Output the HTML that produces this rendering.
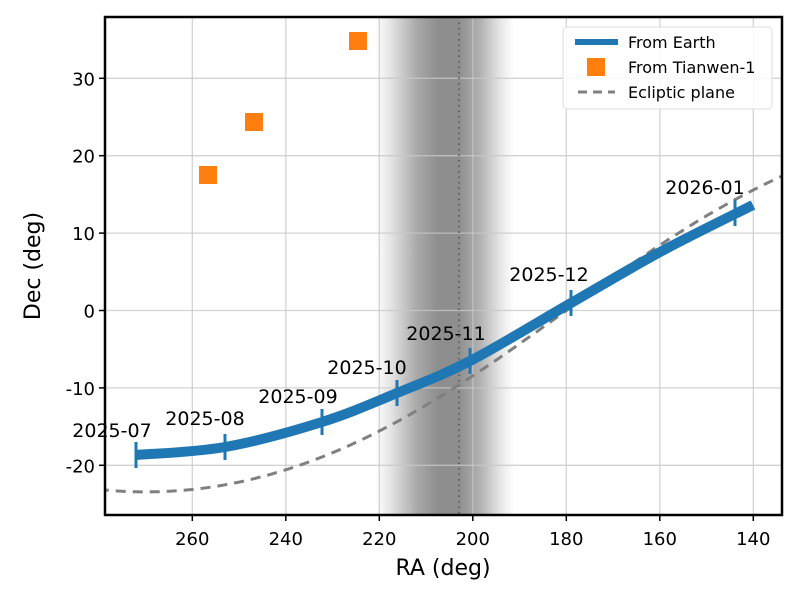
<!DOCTYPE html>
<html><head><meta charset="utf-8"><style>
html,body{margin:0;padding:0;background:#fff;}
svg text{font-family:"DejaVu Sans","Liberation Sans",sans-serif;}
</style></head><body>
<svg id="s" width="800" height="599" viewBox="0 0 800 599" xmlns="http://www.w3.org/2000/svg">
<defs>
<linearGradient id="band" x1="0" x2="1" y1="0" y2="0">
<stop offset="0" stop-color="#fff"/>
<stop offset="0.12" stop-color="#e0e0e0"/>
<stop offset="0.3" stop-color="#a8a8a8"/>
<stop offset="0.45" stop-color="#8e8e8e"/>
<stop offset="0.6" stop-color="#8e8e8e"/>
<stop offset="0.75" stop-color="#b0b0b0"/>
<stop offset="0.9" stop-color="#e6e6e6"/>
<stop offset="1" stop-color="#fff"/>
</linearGradient>
<clipPath id="c"><rect x="105" y="17" width="677" height="498"/></clipPath>
</defs>
<g id="plot" clip-path="url(#c)"></g>
<rect x="105" y="17" width="677" height="498" fill="none" stroke="#000" stroke-width="2.5"/>
<g id="ticks"></g>
<text x="443" y="575" font-size="22" text-anchor="middle">RA (deg)</text>
<text transform="translate(40,266) rotate(-90)" font-size="22" text-anchor="middle">Dec (deg)</text>
<rect x="563" y="27" width="209" height="82" rx="4" fill="#fff" fill-opacity="0.85" stroke="#ddd"/>
<line x1="575" y1="42" x2="618" y2="42" stroke="#1f77b4" stroke-width="6"/>
<text x="628" y="48" font-size="16">From Earth</text>
<rect x="587" y="58" width="18" height="18" fill="#ff7f0e"/>
<text x="628" y="73" font-size="16">From Tianwen-1</text>
<line x1="578" y1="92" x2="615" y2="92" stroke="#808080" stroke-width="3" stroke-dasharray="9,6"/>
<text x="628" y="98" font-size="16">Ecliptic plane</text>
</svg>
<script>
const NS="http://www.w3.org/2000/svg";
const X=ra=>192.3+(260-ra)*4.675, Y=d=>310.5-d*7.74;
const p=document.getElementById('plot'), t=document.getElementById('ticks');
function el(par,n,a,txt){const e=document.createElementNS(NS,n);for(const k in a)e.setAttribute(k,a[k]);if(txt)e.textContent=txt;par.appendChild(e);return e;}
el(p,'rect',{x:376,y:17,width:138,height:498,fill:'url(#band)'});
for(let ra=140;ra<=260;ra+=20){el(p,'line',{x1:X(ra),x2:X(ra),y1:17,y2:515,stroke:'#c8c8c8','stroke-width':1.3,'stroke-opacity':0.8});
 el(t,'line',{x1:X(ra),x2:X(ra),y1:515,y2:521,stroke:'#000','stroke-width':1.5});
 el(t,'text',{x:X(ra),y:545,'font-size':18,'text-anchor':'middle'},String(ra));}
for(let d=-20;d<=30;d+=10){el(p,'line',{x1:105,x2:782,y1:Y(d),y2:Y(d),stroke:'#c8c8c8','stroke-width':1.3,'stroke-opacity':0.8});
 el(t,'line',{x1:99,x2:105,y1:Y(d),y2:Y(d),stroke:'#000','stroke-width':1.5});
 el(t,'text',{x:95,y:Y(d)+7,'font-size':18,'text-anchor':'end'},String(d));}
el(p,'line',{x1:459,x2:459,y1:17,y2:515,stroke:'#555','stroke-width':1.5,'stroke-dasharray':'1.5,4'});
let d="";const eps=23.44*Math.PI/180;
for(let ra=280;ra>=133;ra-=1){const r=ra*Math.PI/180;const dec=Math.atan(Math.sin(r)*Math.tan(eps))*180/Math.PI;d+=(d?"L":"M")+X(ra).toFixed(1)+","+Y(dec).toFixed(1);}
el(p,'path',{d:d,fill:'none',stroke:'#808080','stroke-width':3,'stroke-dasharray':'10,7'});
const pts=[[136,455],[225,447],[322,422],[397,393],[470,361],[571,303],[662,251],[753,205]];
let b="M"+pts[0];
for(let i=0;i<pts.length-1;i++){const p0=pts[Math.max(i-1,0)],p1=pts[i],p2=pts[i+1],p3=pts[Math.min(i+2,pts.length-1)];
 b+=`C${p1[0]+(p2[0]-p0[0])/6},${p1[1]+(p2[1]-p0[1])/6} ${p2[0]-(p3[0]-p1[0])/6},${p2[1]-(p3[1]-p1[1])/6} ${p2[0]},${p2[1]}`;}
el(p,'path',{d:b,fill:'none',stroke:'#1f77b4','stroke-width':10,'stroke-linecap':'butt','stroke-linejoin':'round'});
const mk=[[136,455],[225,447],[322,422],[397,393],[470,361],[571,303],[735,213]];
mk.forEach(q=>el(p,'line',{x1:q[0],x2:q[0],y1:q[1]-13,y2:q[1]+13,stroke:'#1f77b4','stroke-width':3}));
[[208,175],[254,122],[358,41]].forEach(q=>el(p,'rect',{x:q[0]-9,y:q[1]-9,width:18,height:18,fill:'#ff7f0e'}));
const lab=[["2025-07",112,437],["2025-08",205,425],["2025-09",298,403],["2025-10",367,374],["2025-11",446,340],["2025-12",549,281],["2026-01",705,194]];
lab.forEach(l=>el(t,'text',{x:l[1],y:l[2],'font-size':19,'text-anchor':'middle'},l[0]));
</script>
</body></html>
